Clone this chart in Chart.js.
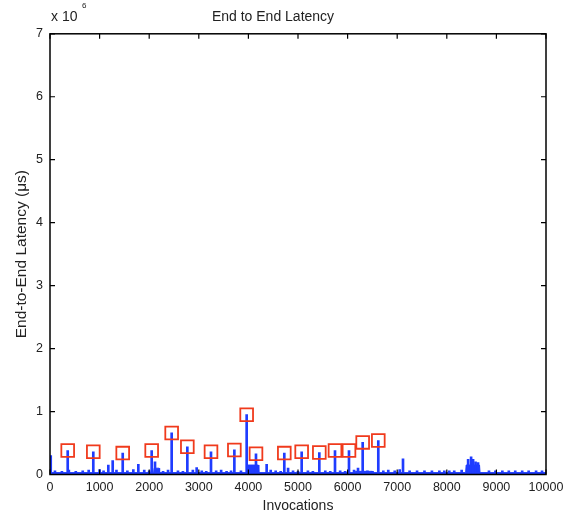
<!DOCTYPE html>
<html>
<head>
<meta charset="utf-8">
<script src="https://cdn.jsdelivr.net/npm/chart.js@4/dist/chart.umd.min.js"></script>
<style>
  html, body { margin: 0; padding: 0; background: #fff; }
  #wrap { width: 578px; height: 519px; }
</style>
</head>
<body>
<div id="wrap"><canvas id="chart" width="578" height="519"></canvas></div>
<script>
// values in units of 10^6 us
const peakX = [357, 873, 1466, 2050, 2453, 2769, 3246, 3717, 3965, 4153, 4724, 5074, 5430, 5746, 6028, 6304, 6619];
const peakY = [0.38, 0.36, 0.34, 0.38, 0.66, 0.44, 0.36, 0.39, 0.95, 0.33, 0.34, 0.36, 0.35, 0.38, 0.38, 0.51, 0.54];

const minorX = [15, 1176, 1264, 1781, 2117, 2957, 4368, 4800, 6210, 7117, 8430, 8490, 8530, 8580, 8630];
const minorY = [0.30, 0.15, 0.22, 0.16, 0.20, 0.11, 0.16, 0.10, 0.10, 0.25, 0.24, 0.28, 0.24, 0.20, 0.19];

const smallX = [100, 240, 380, 520, 660, 780, 1000, 1080, 1340, 1560, 1680, 1900, 2000, 2180, 2280, 2380,
  2580, 2680, 2880, 3060, 3150, 3350, 3450, 3560, 3650, 3850, 4450, 4550, 4650, 4900, 5000, 5200, 5300,
  5550, 5650, 5850, 5950, 6130, 6400, 6500, 6720, 6820, 6950, 7050, 7250, 7400, 7550, 7700, 7850, 7950,
  8050, 8150, 8300, 8850, 8980, 9120, 9250, 9380, 9520, 9650, 9800, 9920];
const smallY = [0.06, 0.05, 0.07, 0.05, 0.06, 0.07, 0.08, 0.06, 0.07, 0.06, 0.08, 0.07, 0.06, 0.06, 0.05, 0.07,
  0.06, 0.05, 0.07, 0.06, 0.05, 0.06, 0.07, 0.05, 0.06, 0.06, 0.07, 0.06, 0.05, 0.06, 0.05, 0.06, 0.05,
  0.06, 0.05, 0.06, 0.05, 0.07, 0.06, 0.05, 0.06, 0.07, 0.06, 0.08, 0.06, 0.06, 0.06, 0.06, 0.06, 0.06,
  0.06, 0.06, 0.07, 0.06, 0.06, 0.06, 0.06, 0.06, 0.06, 0.06, 0.06, 0.06];

const baseX = [0, 2090, 2100, 2200, 2210, 3980, 3990, 4200, 4210, 6150, 6160, 6500, 6510, 8380, 8390, 8660, 8670, 10000];
const baseY = [0.03, 0.03, 0.10, 0.10, 0.03, 0.03, 0.15, 0.15, 0.03, 0.03, 0.05, 0.05, 0.03, 0.03, 0.15, 0.15, 0.03, 0.03];

const xTicks = [0, 1000, 2000, 3000, 4000, 5000, 6000, 7000, 8000, 9000, 10000];
const yTicks = [0, 1, 2, 3, 4, 5, 6, 7];

const blue = '#1f3cff';
const red = '#f03a1c';
const fontFamily = '"Liberation Sans", Arial, Helvetica, sans-serif';

const pts = (xs, ys) => xs.map((x, i) => ({ x: x, y: ys[i] }));

// box with inward ticks on every side, plus the exponent label
const boxPlugin = {
  id: 'box',
  afterDraw(chart) {
    const { ctx, chartArea: a, scales } = chart;
    ctx.save();
    ctx.strokeStyle = '#000';
    ctx.lineWidth = 1.5;
    ctx.strokeRect(a.left, a.top, a.right - a.left, a.bottom - a.top);
    ctx.lineWidth = 1.2;
    ctx.beginPath();
    xTicks.forEach(v => {
      const px = scales.x.getPixelForValue(v);
      ctx.moveTo(px, a.bottom); ctx.lineTo(px, a.bottom - 5);
      ctx.moveTo(px, a.top); ctx.lineTo(px, a.top + 5);
    });
    yTicks.forEach(v => {
      const py = scales.y.getPixelForValue(v);
      ctx.moveTo(a.left, py); ctx.lineTo(a.left + 5, py);
      ctx.moveTo(a.right, py); ctx.lineTo(a.right - 5, py);
    });
    ctx.stroke();
    ctx.fillStyle = '#222';
    ctx.textBaseline = 'middle';
    ctx.font = '14px ' + fontFamily;
    ctx.fillText('x 10', a.left + 1, 17);
    ctx.font = '8px ' + fontFamily;
    ctx.fillText('6', a.left + 32, 6);
    ctx.restore();
  }
};

new Chart(document.getElementById('chart'), {
  type: 'bar',
  data: {
    datasets: [{
      type: 'line',
      label: 'peaks',
      data: pts(peakX, peakY),
      showLine: false,
      pointStyle: 'rect',
      pointRadius: 9,
      pointBorderWidth: 1.8,
      borderColor: red,
      backgroundColor: 'rgba(0,0,0,0)',
      order: 0
    }, {
      type: 'bar',
      label: 'spikes',
      data: pts(peakX, peakY).concat(pts(minorX, minorY), pts(smallX, smallY)),
      backgroundColor: blue,
      barThickness: 2,
      order: 1
    }, {
      type: 'line',
      label: 'base',
      data: pts(baseX, baseY),
      borderColor: blue,
      borderWidth: 1,
      backgroundColor: blue,
      fill: 'origin',
      pointRadius: 0,
      tension: 0,
      order: 2
    }]
  },
  options: {
    responsive: false,
    animation: false,
    layout: { padding: { left: 0, right: 32, top: 0, bottom: 0 } },
    plugins: {
      legend: { display: false },
      tooltip: { enabled: false },
      title: {
        display: true,
        text: 'End to End Latency',
        color: '#222',
        font: { family: fontFamily, size: 14, weight: 'normal' },
        padding: { top: 9, bottom: 8 }
      }
    },
    scales: {
      x: {
        type: 'linear',
        min: 0,
        max: 10000,
        offset: false,
        grid: { display: false, drawTicks: false },
        border: { display: false },
        afterFit: s => { s.height = 44.5; },
        afterBuildTicks: s => { s.ticks = xTicks.map(v => ({ value: v })); },
        ticks: {
          color: '#222', padding: 6, maxRotation: 0,
          font: { family: fontFamily, size: 12.5 },
          callback: v => String(v)
        },
        title: {
          display: true,
          text: 'Invocations',
          color: '#222',
          font: { family: fontFamily, size: 14 },
          padding: { top: 0, bottom: 4.5 }
        }
      },
      y: {
        min: 0,
        max: 7,
        grid: { display: false, drawTicks: false },
        border: { display: false },
        afterFit: s => { s.width = 50; },
        afterBuildTicks: s => { s.ticks = yTicks.map(v => ({ value: v })); },
        ticks: {
          color: '#222', padding: 7,
          font: { family: fontFamily, size: 12.5 },
          callback: v => String(v)
        },
        title: {
          display: true,
          text: 'End-to-End Latency (\u03bcs)',
          color: '#222',
          font: { family: fontFamily, size: 15.5 },
          padding: { top: 12.4, bottom: 0 }
        }
      }
    }
  },
  plugins: [boxPlugin]
});
</script>
</body>
</html>
